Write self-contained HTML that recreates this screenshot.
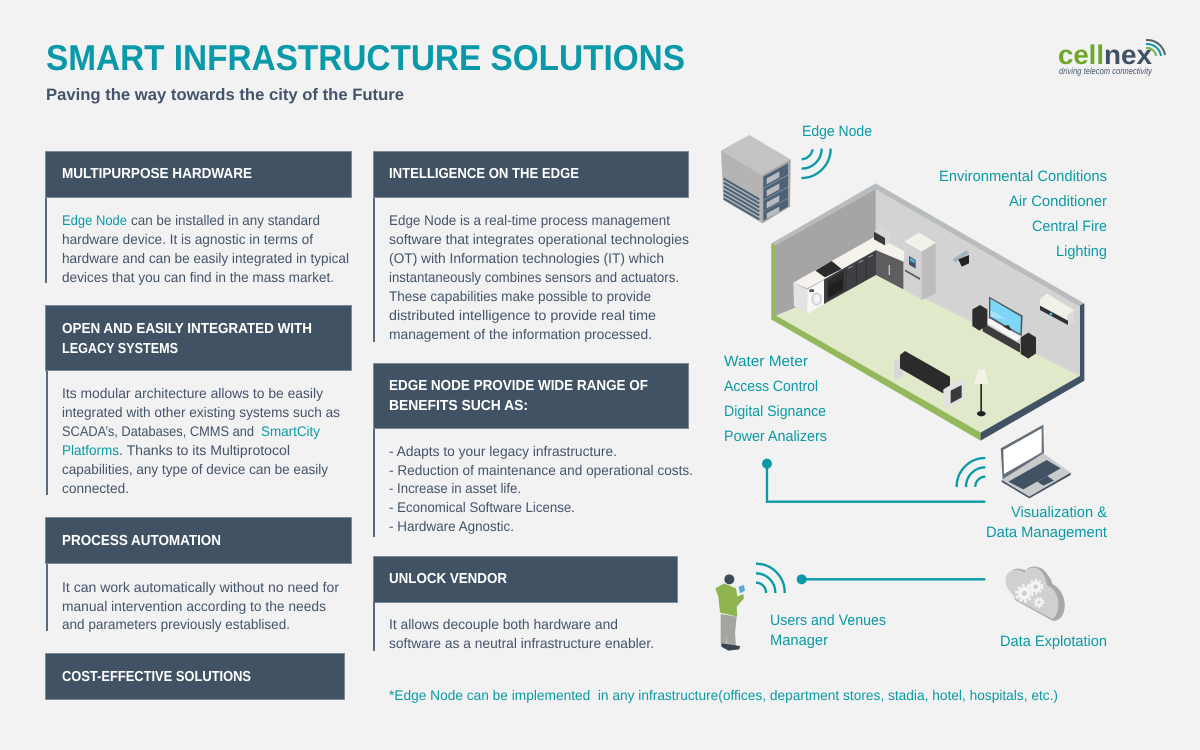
<!DOCTYPE html>
<html><head><meta charset="utf-8"><style>
html,body{margin:0;padding:0;background:#f2f2f2;width:1200px;height:750px;overflow:hidden}
svg{display:block}
text{font-family:"Liberation Sans",sans-serif;text-rendering:geometricPrecision}
.b{font-size:14px;fill:#44546a}
.t{font-size:15px;fill:#0a9aa5}
.h{font-size:14.5px;font-weight:bold;fill:#fff}
</style></head><body>
<svg width="1200" height="750" viewBox="0 0 1200 750" xmlns="http://www.w3.org/2000/svg">
<rect width="1200" height="750" fill="#f2f2f2"/>
<text x="46" y="70" font-size="36" font-weight="bold" fill="#0a99a8" textLength="639" lengthAdjust="spacingAndGlyphs">SMART INFRASTRUCTURE SOLUTIONS</text>
<text x="46" y="100" font-size="16.5" font-weight="bold" fill="#44546a" textLength="358" lengthAdjust="spacingAndGlyphs">Paving the way towards the city of the Future</text>

<!-- logo -->
<text x="1058" y="64" font-size="27" font-weight="bold" fill="#6ea62c" textLength="46" lengthAdjust="spacingAndGlyphs">cell</text>
<text x="1104" y="64" font-size="27" font-weight="bold" fill="#3f5163" textLength="48" lengthAdjust="spacingAndGlyphs">nex</text>
<text x="1059" y="74" font-size="9" font-style="italic" fill="#44546a" textLength="93" lengthAdjust="spacingAndGlyphs">driving telecom connectivity</text>
<g fill="none" stroke-width="2">
<path d="M1146 40a18 18 0 0 1 19 15" stroke="#55606b"/>
<path d="M1146 44a14 14 0 0 1 15 12" stroke="#0a97a3"/>
<path d="M1146 48a9 9 0 0 1 10 8" stroke="#7ab648"/>
</g>

<!-- panels -->
<g fill="#405263" stroke="#7d8b98" stroke-width="1">
<rect x="45.5" y="151.500" width="306" height="46"/>
<rect x="45.500" y="305.500" width="306" height="65"/>
<rect x="45.500" y="517.500" width="306" height="46"/>
<rect x="45.500" y="653.500" width="299" height="46"/>
<rect x="373.500" y="151.500" width="315" height="46"/>
<rect x="373.500" y="363.500" width="315" height="65"/>
<rect x="373.500" y="556.500" width="304" height="46"/>
</g>
<g fill="#5b6b7a">
<rect x="45" y="198" width="2" height="85"/>
<rect x="46" y="371" width="2" height="124"/>
<rect x="46" y="564" width="2" height="67"/>
<rect x="373" y="198" width="2" height="144"/>
<rect x="373" y="429" width="2" height="108"/>
<rect x="373" y="602" width="2" height="49"/>
</g>

<text class="h" x="62" y="178" textLength="190" lengthAdjust="spacingAndGlyphs">MULTIPURPOSE HARDWARE</text>
<text class="h" x="62" y="333" textLength="250" lengthAdjust="spacingAndGlyphs">OPEN AND EASILY INTEGRATED WITH</text>
<text class="h" x="62" y="353" textLength="116" lengthAdjust="spacingAndGlyphs">LEGACY SYSTEMS</text>
<text class="h" x="62" y="545" textLength="159" lengthAdjust="spacingAndGlyphs">PROCESS AUTOMATION</text>
<text class="h" x="62" y="681" textLength="189" lengthAdjust="spacingAndGlyphs">COST-EFFECTIVE SOLUTIONS</text>
<text class="h" x="389" y="178" textLength="190" lengthAdjust="spacingAndGlyphs">INTELLIGENCE ON THE EDGE</text>
<text class="h" x="389" y="390" textLength="259" lengthAdjust="spacingAndGlyphs">EDGE NODE PROVIDE WIDE RANGE OF</text>
<text class="h" x="389" y="410" textLength="139" lengthAdjust="spacingAndGlyphs">BENEFITS SUCH AS:</text>
<text class="h" x="389" y="583" textLength="118" lengthAdjust="spacingAndGlyphs">UNLOCK VENDOR</text>

<text class="t" style="font-size:14px" x="62" y="225" textLength="65" lengthAdjust="spacingAndGlyphs">Edge Node</text>
<text class="b" x="131" y="225" textLength="189" lengthAdjust="spacingAndGlyphs">can be installed in any standard</text>
<text class="b" x="62" y="244" textLength="251" lengthAdjust="spacingAndGlyphs">hardware device. It is agnostic in terms of</text>
<text class="b" x="62" y="263" textLength="287" lengthAdjust="spacingAndGlyphs">hardware and can be easily integrated in typical</text>
<text class="b" x="62" y="282" textLength="272" lengthAdjust="spacingAndGlyphs">devices that you can find in the mass market.</text>

<text class="b" x="62" y="398" textLength="261" lengthAdjust="spacingAndGlyphs">Its modular architecture allows to be easily</text>
<text class="b" x="62" y="417" textLength="278" lengthAdjust="spacingAndGlyphs">integrated with other existing systems such as</text>
<text class="b" x="62" y="436" textLength="192" lengthAdjust="spacingAndGlyphs">SCADA’s, Databases, CMMS and</text>
<text class="t" style="font-size:14px" x="261" y="436" textLength="59" lengthAdjust="spacingAndGlyphs">SmartCity</text>
<text class="t" style="font-size:14px" x="62" y="455" textLength="57" lengthAdjust="spacingAndGlyphs">Platforms</text>
<text class="b" x="119" y="455" textLength="171" lengthAdjust="spacingAndGlyphs">. Thanks to its Multiprotocol</text>
<text class="b" x="62" y="474" textLength="266" lengthAdjust="spacingAndGlyphs">capabilities, any type of device can be easily</text>
<text class="b" x="62" y="493" textLength="67" lengthAdjust="spacingAndGlyphs">connected.</text>

<text class="b" x="62" y="592" textLength="277" lengthAdjust="spacingAndGlyphs">It can work automatically without no need for</text>
<text class="b" x="62" y="611" textLength="264" lengthAdjust="spacingAndGlyphs">manual intervention according to the needs</text>
<text class="b" x="62" y="629" textLength="228" lengthAdjust="spacingAndGlyphs">and parameters previously establised.</text>

<text class="b" x="389" y="225" textLength="281" lengthAdjust="spacingAndGlyphs">Edge Node is a real-time process management</text>
<text class="b" x="389" y="244" textLength="300" lengthAdjust="spacingAndGlyphs">software that integrates operational technologies</text>
<text class="b" x="389" y="263" textLength="275" lengthAdjust="spacingAndGlyphs">(OT) with Information technologies (IT) which</text>
<text class="b" x="389" y="282" textLength="290" lengthAdjust="spacingAndGlyphs">instantaneously combines sensors and actuators.</text>
<text class="b" x="389" y="301" textLength="262" lengthAdjust="spacingAndGlyphs">These capabilities make possible to provide</text>
<text class="b" x="389" y="320" textLength="267" lengthAdjust="spacingAndGlyphs">distributed intelligence to provide real time</text>
<text class="b" x="389" y="339" textLength="263" lengthAdjust="spacingAndGlyphs">management of the information processed.</text>

<text class="b" x="389" y="456" textLength="228" lengthAdjust="spacingAndGlyphs">- Adapts to your legacy infrastructure.</text>
<text class="b" x="389" y="475" textLength="304" lengthAdjust="spacingAndGlyphs">- Reduction of maintenance and operational costs.</text>
<text class="b" x="389" y="493" textLength="132" lengthAdjust="spacingAndGlyphs">- Increase in asset life.</text>
<text class="b" x="389" y="512" textLength="186" lengthAdjust="spacingAndGlyphs">- Economical Software License.</text>
<text class="b" x="389" y="531" textLength="125" lengthAdjust="spacingAndGlyphs">- Hardware Agnostic.</text>

<text class="b" x="389" y="629" textLength="229" lengthAdjust="spacingAndGlyphs">It allows decouple both hardware and</text>
<text class="b" x="389" y="648" textLength="265" lengthAdjust="spacingAndGlyphs">software as a neutral infrastructure enabler.</text>

<text class="t" style="font-size:14px" x="389" y="700" textLength="669" lengthAdjust="spacingAndGlyphs" xml:space="preserve">*Edge Node can be implemented  in any infrastructure(offices, department stores, stadia, hotel, hospitals, etc.)</text>

<!-- diagram labels -->
<text class="t" x="802" y="136" textLength="70" lengthAdjust="spacingAndGlyphs">Edge Node</text>
<text class="t" x="939" y="181" textLength="168" lengthAdjust="spacingAndGlyphs">Environmental Conditions</text>
<text class="t" x="1009" y="206" textLength="98" lengthAdjust="spacingAndGlyphs">Air Conditioner</text>
<text class="t" x="1032" y="231" textLength="75" lengthAdjust="spacingAndGlyphs">Central Fire</text>
<text class="t" x="1056" y="256" textLength="51" lengthAdjust="spacingAndGlyphs">Lighting</text>
<text class="t" x="724" y="366" textLength="84" lengthAdjust="spacingAndGlyphs">Water Meter</text>
<text class="t" x="724" y="391" textLength="94" lengthAdjust="spacingAndGlyphs">Access Control</text>
<text class="t" x="724" y="416" textLength="102" lengthAdjust="spacingAndGlyphs">Digital Signance</text>
<text class="t" x="724" y="441" textLength="103" lengthAdjust="spacingAndGlyphs">Power Analizers</text>
<text class="t" x="1011" y="517" textLength="96" lengthAdjust="spacingAndGlyphs">Visualization &amp;</text>
<text class="t" x="986" y="537" textLength="121" lengthAdjust="spacingAndGlyphs">Data Management</text>
<text class="t" x="770" y="625" textLength="116" lengthAdjust="spacingAndGlyphs">Users and Venues</text>
<text class="t" x="770" y="645" textLength="58" lengthAdjust="spacingAndGlyphs">Manager</text>
<text class="t" x="1000" y="646" textLength="107" lengthAdjust="spacingAndGlyphs">Data Explotation</text>

<!-- room and server -->
<g transform="translate(700,110) scale(.33333)">
<polygon points="148,75 63,122 187,195 272,148" fill="#c3c3c3"/>
<polygon points="63,122 187,195 187,340 70,270" fill="#b4b4b4"/>
<polygon points="187,195 272,148 270,290 187,340" fill="#a3a3a3"/>
<g stroke="#4c6277" stroke-width="6">
<path d="M71 206L178 268M71 218L178 280M71 230L178 292M71 242L178 304M71 254L178 316M71 266L178 328"/>
</g>
<g fill="#4c6277">
<polygon points="190,200 264,160 264,194 190,234"/>
<polygon points="190,236 264,196 264,230 190,270"/>
<polygon points="190,272 264,232 264,264 190,304"/>
<polygon points="190,305 264,266 264,290 190,332"/>
</g>
<g fill="#b8bcc0">
<polygon points="200,205 238,184 238,202 200,223"/>
<polygon points="200,241 238,220 238,238 200,259"/>
<polygon points="200,277 238,256 238,274 200,295"/>
<polygon points="200,310 238,290 238,306 200,326"/>
</g>
<g fill="none" stroke="#0a9aa5" stroke-width="7">
<path d="M338 118a36 36 0 0 1 -33 30"/>
<path d="M365 116a60 60 0 0 1 -60 60"/>
<path d="M392 116a88 88 0 0 1 -88 88"/>
</g>

<polygon points="214,400 527,220 1153,580 1153,812 842,992 214,628" fill="#b9bcbe"/>
<polygon points="228,405 527,238 527,492 228,617" fill="#a5a5a5"/>
<polygon points="527,238 1140,590 1140,798 527,492" fill="#d3d3d3"/>
<polygon points="527,492 1140,798 842,968 228,617" fill="#e1e9cb"/>
<polygon points="214,400 228,408 228,617 842,968 842,992 214,628" fill="#93b95c"/>
<polygon points="842,992 842,968 1140,798 1140,586 1153,580 1153,812" fill="#405263"/>

<!-- sofa -->
<polygon points="582,755 610,740 610,795 590,810 582,800" fill="#d8d8d8"/>
<polygon points="600,735 615,723 750,800 750,862 600,775" fill="#2b2b2b"/>
<polygon points="730,838 785,805 795,820 795,865 745,893 730,885" fill="#e2e2e2"/>
<polygon points="752,842 785,825 785,862 752,880" fill="#3a3a3a"/>
<!-- lamp -->
<polygon points="835,778 855,778 865,822 822,822" fill="#f3f1e4"/>
<rect x="841" y="822" width="5" height="85" fill="#2b2b2b"/>
<ellipse cx="844" cy="911" rx="13" ry="8" fill="#222"/>
</g>

<!-- kitchen -->
<g transform="translate(770,200) scale(.33333)">
<polygon points="318,150 400,185 400,268 318,225" fill="#5c5e60"/>
<polygon points="162,238 318,150 318,225 162,312" fill="#3d3f42"/>
<path d="M228 212V272M260 194V254M288 178V238" stroke="#2a2a2c" stroke-width="2"/>
<path d="M235 205l14-7M266 188l14-7M295 172l14-7" stroke="#c8c8c8" stroke-width="2"/>
<rect x="356" y="195" width="4" height="30" fill="#c8c8c8"/>
<polygon points="70,248 318,108 405,155 400,185 318,150 162,238 112,265" fill="#f5f3ec"/>
<polygon points="70,248 112,268 112,340 72,318" fill="#e3e3e3"/>
<polygon points="112,268 162,240 162,312 112,342" fill="#f8f8f8"/>
<ellipse cx="140" cy="297" rx="16" ry="20" fill="#d5d5d5"/>
<ellipse cx="140" cy="297" rx="10" ry="14" fill="#f4f4f4"/>
<rect x="118" y="268" width="14" height="8" fill="#405263"/>
<polygon points="172,240 222,212 222,272 172,300" fill="#2b2b2b"/>
<polygon points="176,258 216,236 216,268 176,292" fill="#1f1f1f"/>
<polygon points="136,212 185,183 215,207 165,232" fill="#2b2b2b"/>
<polygon points="335,83 362,100 362,128 345,136 312,118 312,95" fill="#d8d8d8"/>
<polygon points="312,95 345,114 345,136 312,118" fill="#3a3a3a"/>
<polygon points="403,125 447,98 497,128 455,155" fill="#f3f2ea"/>
<polygon points="403,125 455,155 455,300 403,268" fill="#d2d2d2"/>
<polygon points="455,155 497,130 497,280 455,300" fill="#bdbdbd"/>
<polygon points="417,168 437,180 437,206 417,194" fill="#405263"/>
<polygon points="420,173 434,181 434,190 420,182" fill="#4fb3d9"/>
<polygon points="405,208 450,234 450,240 405,214" fill="#5a5a5a"/>
<!-- camera -->
<polygon points="548,178 590,150 597,160 556,188" fill="#a4b4be"/>
<polygon points="565,178 597,165 597,190 575,200" fill="#222"/>
</g>

<!-- media wall -->
<g transform="translate(950,260) scale(.33333)">
<polygon points="117,110 218,167 215,228 117,175" fill="#4a5560"/>
<polygon points="121,116 213,170 211,222 121,170" fill="#7ed5f5"/>
<polygon points="121,150 170,178 121,170" fill="#a8e3f8"/>
<polygon points="150,200 175,195 185,210 165,215" fill="#333"/>
<polygon points="100,182 120,175 213,232 200,243" fill="#f8f8f8"/>
<polygon points="98,188 210,252 210,278 98,214" fill="#3c3c3c"/>
<polygon points="67,148 90,135 112,148 112,195 88,212 67,198" fill="#2e2e2e"/>
<polygon points="212,232 235,218 258,232 258,280 235,296 212,282" fill="#2e2e2e"/>
<polygon points="270,118 290,100 372,150 372,185 352,195 270,140" fill="#f2f1e6"/>
<polygon points="352,165 372,150 372,185 352,195" fill="#dcdcdc"/>
<polygon points="270,137 354,182 354,195 270,150" fill="#2b3238"/>
<circle cx="303" cy="162" r="4" fill="#4fc3e0"/>
</g>

<!-- laptop -->
<g transform="translate(990,420) scale(.33333)">
<polygon points="32,85 160,14 162,100 38,178" fill="#66717c"/>
<polygon points="40,90 155,25 155,97 42,162" fill="#fff"/>
<polygon points="35,180 160,100 242,158 118,230" fill="#c8cacc"/>
<polygon points="55,185 170,120 212,145 100,208" fill="#405263"/>
<polygon points="142,185 172,168 192,182 160,197" fill="#405263"/>
<polygon points="35,180 118,230 242,158 242,165 118,235 35,186" fill="#405263"/>
</g>

<!-- connectors -->
<g transform="translate(700,420) scale(.33333)">
<g fill="none" stroke="#0a9aa5" stroke-width="7">
<path d="M856 114a86 86 0 0 0 -86 87"/>
<path d="M856 142a58 58 0 0 0 -58 59"/>
<path d="M856 170a30 30 0 0 0 -30 31"/>
<path d="M201 130V245H856"/>
<path d="M305 478H856"/>
<path d="M168 431a86 86 0 0 1 86 88"/>
<path d="M168 460a58 58 0 0 1 58 59"/>
<path d="M168 488a30 30 0 0 1 30 31"/>
</g>
<circle cx="201" cy="131" r="15" fill="#0a9aa5"/>
<circle cx="305" cy="478" r="15" fill="#0a9aa5"/>
<!-- person -->
<circle cx="88" cy="478" r="15" fill="#3d4b57"/>
<polygon points="46,505 72,490 108,505 112,530 130,522 132,535 110,560 112,590 60,578 55,530" fill="#8fb34e"/>
<polygon points="62,582 110,590 105,640 108,678 80,680 78,640 78,672 62,670" fill="#a5a5a0"/>
<polygon points="64,670 78,672 120,678 118,688 85,692 64,680" fill="#39454f"/>
<polygon points="116,500 132,495 135,512 120,520" fill="#5aa9d6"/>
</g>

<!-- cloud -->
<g transform="translate(995,560) scale(.33333)">
<path d="M50 32C62 22 80 26 92 32C104 14 134 16 150 34C162 48 170 60 172 72C198 84 214 118 208 148C204 172 190 184 172 182L60 120z" fill="#a8a8a8"/>
<path d="M42 90C26 72 28 40 50 32C64 26 78 30 88 38C100 18 128 18 142 38C150 50 154 62 155 75C178 84 192 110 190 136C188 160 180 176 170 176L62 118z" fill="#d0d0d0"/>
<g fill="#f6f6f6" stroke="#f6f6f6">
<circle cx="88" cy="100" r="19"/>
<circle cx="122" cy="80" r="16"/>
<circle cx="132" cy="127" r="11"/>
</g>
<g fill="none" stroke="#f6f6f6">
<circle cx="88" cy="100" r="24" stroke-width="7" stroke-dasharray="8 7"/>
<circle cx="122" cy="80" r="20" stroke-width="6" stroke-dasharray="7 6"/>
<circle cx="132" cy="127" r="14" stroke-width="5" stroke-dasharray="5 5"/>
</g>
<g fill="#cfcfcf">
<circle cx="88" cy="100" r="8"/>
<circle cx="122" cy="80" r="7"/>
<circle cx="132" cy="127" r="5"/>
</g>
</g>
</svg>
</body></html>
